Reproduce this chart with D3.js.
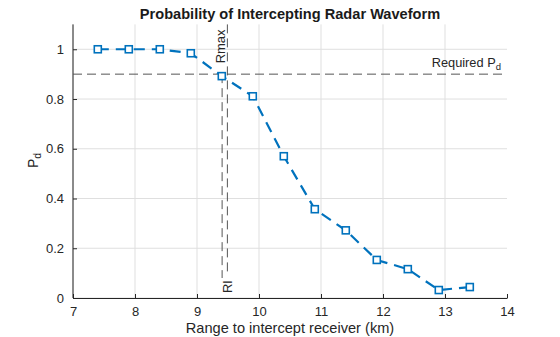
<!DOCTYPE html>
<html><head><meta charset="utf-8">
<script src="https://cdn.jsdelivr.net/npm/d3@7"></script>
<style>body{margin:0;background:#fff}svg{display:block;font-family:"Liberation Sans",Arial,sans-serif}</style>
</head><body><svg id="c" width="560" height="337"></svg>
<script>
const ranges = [7.4, 7.9, 8.4, 8.9, 9.4, 9.9, 10.4, 10.9, 11.4, 11.9, 12.4, 12.9, 13.4];
const pd = [1.0, 1.0, 1.0, 0.984, 0.892, 0.811, 0.570, 0.357, 0.272, 0.153, 0.116, 0.032, 0.044];
const xTicks = [7, 8, 9, 10, 11, 12, 13, 14];
const yTicks = [0, 0.2, 0.4, 0.6, 0.8, 1];
const requiredPd = 0.9;
const rl = 9.405;
const rmax = 9.49;

const svg = d3.select("#c");
const m = {l: 73, r: 53, t: 24.4, b: 39};
const W = 560, H = 337;
const x = d3.scaleLinear().domain([7, 14]).range([m.l, W - m.r]);
const y = d3.scaleLinear().domain([0, 1.1]).range([H - m.b, m.t]);
const tc = "#262626";

// grid
svg.append("g").selectAll("line").data(xTicks.slice(0, -1)).join("line")
  .attr("x1", d => x(d)).attr("x2", d => x(d)).attr("y1", y(0)).attr("y2", y(1.1))
  .attr("stroke", "#dfdfdf").attr("stroke-width", 1);
svg.append("g").selectAll("line").data(yTicks).join("line")
  .attr("x1", x(7)).attr("x2", x(14)).attr("y1", d => y(d)).attr("y2", d => y(d))
  .attr("stroke", "#dfdfdf").attr("stroke-width", 1);

// axes
const xa = svg.append("g").attr("transform", `translate(0,${y(0)})`)
  .call(d3.axisBottom(x).tickValues(xTicks).tickFormat(d3.format("d")).tickSizeInner(-4).tickSizeOuter(0).tickPadding(9));
const ya = svg.append("g").attr("transform", `translate(${x(7)},0)`)
  .call(d3.axisLeft(y).tickValues(yTicks).tickFormat(d => d === 0 || d === 1 ? d3.format("d")(d) : d3.format(".1f")(d)).tickSizeInner(-4).tickSizeOuter(0).tickPadding(9));
[xa, ya].forEach(a => {
  a.select(".domain").attr("stroke", tc);
  a.selectAll(".tick line").attr("stroke", tc);
  a.selectAll("text").attr("fill", tc).style("font-size", "13px").style("font-family", '"Liberation Sans",Arial,sans-serif');
});
ya.select(".domain").attr("d", `M0,${y(0)}V${y(1.1)}`);

// required Pd line
svg.append("line").attr("x1", x(7)).attr("x2", x(14)).attr("y1", y(requiredPd)).attr("y2", y(requiredPd))
  .attr("stroke", "#555").attr("stroke-width", 1).attr("stroke-dasharray", "9,5");
const rq = svg.append("text").attr("x", x(14) - 6).attr("y", y(requiredPd) - 7).attr("text-anchor", "end")
  .attr("fill", tc).style("font-size", "12.8px");
rq.append("tspan").text("Required  P");
rq.append("tspan").attr("dy", 3).style("font-size", "9.5px").text("d");

// Rl and Rmax lines
svg.append("line").attr("x1", x(rl)).attr("x2", x(rl)).attr("y1", y(requiredPd)).attr("y2", y(0) - 20)
  .attr("stroke", "#555").attr("stroke-width", 1).attr("stroke-dasharray", "9,5");
svg.append("line").attr("x1", x(rmax)).attr("x2", x(rmax)).attr("y1", y(1.1)).attr("y2", y(0) - 24)
  .attr("stroke", "#555").attr("stroke-width", 1).attr("stroke-dasharray", "9,5");
svg.append("text").attr("transform", `translate(${x(rmax) - 2},${y(1.1) + 5}) rotate(-90)`)
  .attr("text-anchor", "end").attr("fill", tc).style("font-size", "13px").text("Rmax");
svg.append("text").attr("transform", `translate(${x(rl) + 10},${y(0) - 5}) rotate(-90)`)
  .attr("text-anchor", "start").attr("fill", tc).style("font-size", "13px").text("Rl");

// data line
const pts = ranges.map((r, i) => [r, pd[i]]);
svg.append("path").datum(pts)
  .attr("d", d3.line().x(d => x(d[0])).y(d => y(d[1])))
  .attr("fill", "none").attr("stroke", "#0072BD").attr("stroke-width", 2.2).attr("stroke-dasharray", "11,7");
svg.append("g").selectAll("rect").data(pts).join("rect")
  .attr("x", d => x(d[0]) - 3.5).attr("y", d => y(d[1]) - 3.5).attr("width", 7).attr("height", 7)
  .attr("fill", "#fff").attr("stroke", "#0072BD").attr("stroke-width", 1.6);

// title & labels
svg.append("text").attr("x", (x(7) + x(14)) / 2).attr("y", 19).attr("text-anchor", "middle")
  .attr("fill", "#1a1a1a").style("font-size", "14.6px").style("font-weight", "bold").text("Probability of Intercepting Radar Waveform");
svg.append("text").attr("x", (x(7) + x(14)) / 2).attr("y", 333).attr("text-anchor", "middle")
  .attr("fill", tc).style("font-size", "14.6px").text("Range to intercept receiver (km)");
const yl = svg.append("text").attr("transform", `translate(38,160.5) rotate(-90)`)
  .attr("text-anchor", "middle").attr("fill", tc).style("font-size", "14px");
yl.append("tspan").text("P");
yl.append("tspan").attr("dy", 3).style("font-size", "10.5px").text("d");
</script></body></html>
